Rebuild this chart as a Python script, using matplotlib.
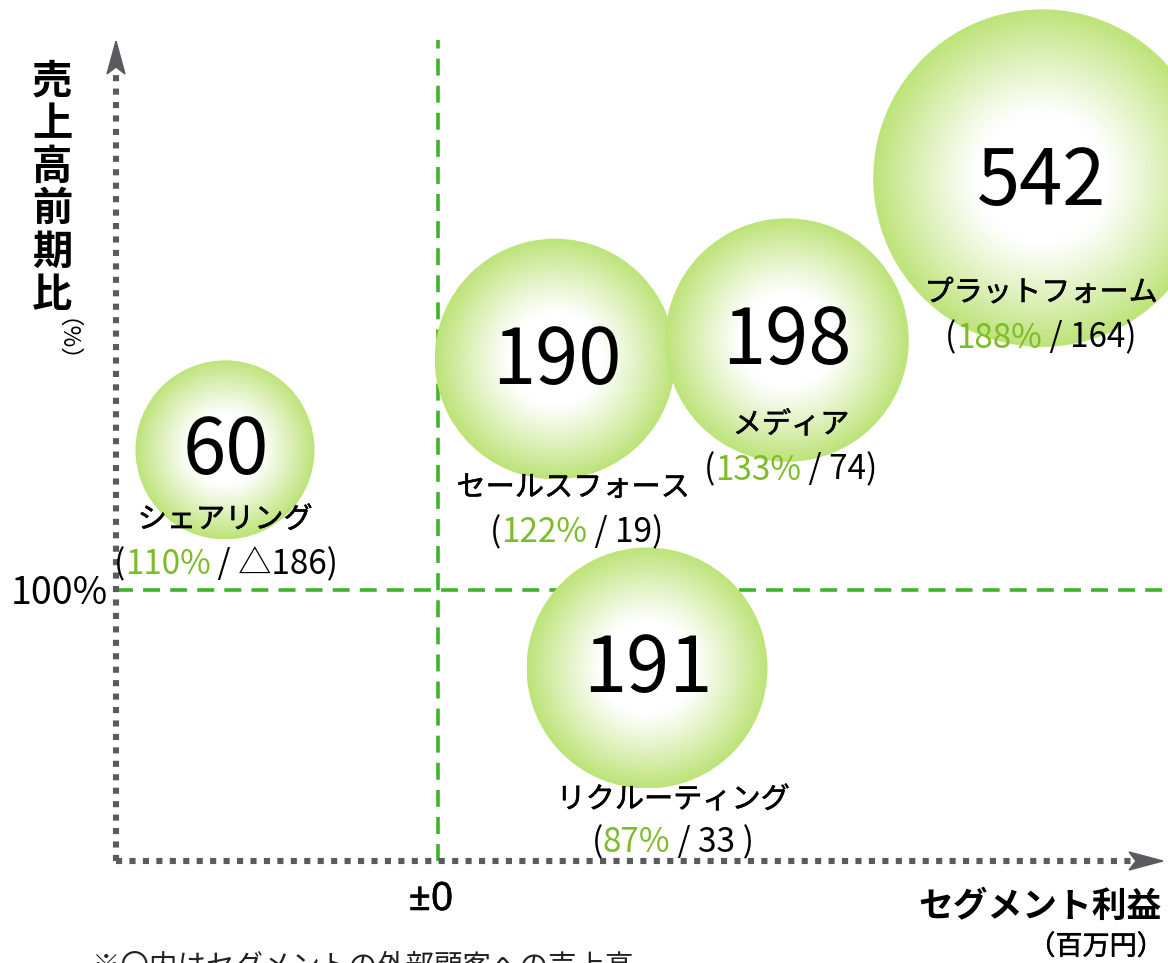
import numpy as np
import matplotlib
matplotlib.use('Agg')
import matplotlib.pyplot as plt
from matplotlib.patches import Ellipse, Polygon
import matplotlib.transforms as mtransforms
import matplotlib.patheffects as pe

plt.rcParams['font.family'] = ['Noto Sans CJK JP', 'DejaVu Sans']

# ---------------- data ----------------
segments = ['シェアリング', 'セールスフォース', 'メディア', 'プラットフォーム', 'リクルーティング']
sales = [60, 190, 198, 542, 191]                 # external sales (million yen), number in bubble
growth_labels = ['110%', '122%', '133%', '188%', '87%']
profit_labels = ['△186', '19', '74', '164', '33 ']
# schematic positions (x: segment profit axis, y: growth % axis)
pos_x = [-213, 117, 349, 604, 209]
pos_y = [146.7, 177.0, 183.3, 237.3, 74.0]

x_tick_label = '±0'
y_tick_label = '100%'

# ---------------- layout ----------------
W, H = 1168, 963
fig = plt.figure(figsize=(W / 100, H / 100), dpi=100)
ax = fig.add_axes([0, 0, 1, 1])
XLIM = (-438, 730)
YLIM = (100 - 373 / 3, 100 + 590 / 3)
ax.axis('off')
pix = mtransforms.Affine2D().scale(1 / W, -1 / H).translate(0, 1) + fig.transFigure

GREEN_TXT = '#7dbb2a'
GREEN_LINE = '#40b22c'
AXIS_GRAY = '#5a5b5f'
medium = [pe.withStroke(linewidth=0.4, foreground='black')]

# reference dashed lines
ax.axvline(0, ymin=(H - 861) / H, ymax=(H - 40) / H, color=GREEN_LINE, lw=2.6,
           dashes=(4.7, 2.8), zorder=1)
ax.axhline(100, xmin=116 / W, xmax=1.0, color=GREEN_LINE, lw=2.6,
           dashes=(4.7, 2.8), zorder=1)

# dotted axes with arrowheads
ax.plot([116, 116], [861, 70], transform=pix, color=AXIS_GRAY, lw=4.4,
        dashes=(1, 1.2), solid_capstyle='butt', dash_capstyle='butt', zorder=1)
ax.plot([116, 1134], [861, 861], transform=pix, color=AXIS_GRAY, lw=4.4,
        dashes=(1, 1.2), solid_capstyle='butt', dash_capstyle='butt', zorder=1)
ax.add_patch(Polygon([(116, 41), (107, 74), (116, 67), (125, 74)], closed=True,
                     transform=pix, color=AXIS_GRAY, zorder=1))
ax.add_patch(Polygon([(1163, 861), (1129, 852), (1136, 861), (1129, 870)], closed=True,
                     transform=pix, color=AXIS_GRAY, zorder=1))

# ---------------- bubbles ----------------
px_per_x = W / (XLIM[1] - XLIM[0])
px_per_y = H / (YLIM[1] - YLIM[0])
edge = np.array([0.74, 0.89, 0.47])
white = np.array([1.0, 1.0, 1.0])
N = 400
yy, xx = np.mgrid[-1:1:N * 1j, -1:1:N * 1j]
dist = np.sqrt(xx ** 2 + yy ** 2)
t = np.clip((dist - 0.38) / 0.62, 0, 1) ** 1.1
grad = white[None, None, :] * (1 - t[..., None]) + edge[None, None, :] * t[..., None]


def radius_px(s):
    return 50 + 5.1 * np.sqrt(s)


for i, (x, y, s) in enumerate(zip(pos_x, pos_y, sales)):
    r = radius_px(s)
    w = r / px_per_x
    h = r / px_per_y
    im = ax.imshow(grad, extent=[x - w, x + w, y - h, y + h], origin='lower',
                   interpolation='bilinear', aspect='auto', zorder=2 + i * 0.01)
    clip = Ellipse((x, y), 2 * w, 2 * h, transform=ax.transData,
                   facecolor='none', edgecolor='none')
    ax.add_patch(clip)
    im.set_clip_path(clip)

ax.set_xlim(*XLIM)
ax.set_ylim(*YLIM)

# ---------------- labels ----------------
num_off = [(1, 2), (2, 3), (0, 2), (0, 5), (1, 2)]
name_off = [(0, 70), (18, 129), (4, 85), (-1, 115), (26, 132)]
pct_off = [(1, 115), (22, 174), (4, 130), (-1, 160), (26, 175)]

renderer = fig.canvas.get_renderer()


def multicolor(xy, parts, off, fs):
    texts, widths = [], []
    for s, c in parts:
        tt = ax.annotate(s, xy=xy, xytext=(off[0], -off[1]), textcoords='offset pixels',
                         ha='left', va='center', color=c, fontsize=fs, zorder=6)
        widths.append(tt.get_window_extent(renderer).width)
        texts.append(tt)
    x0 = off[0] - sum(widths) / 2
    for tt, wd in zip(texts, widths):
        tt.xyann = (x0, -off[1])
        x0 += wd


for i in range(len(segments)):
    xy = (pos_x[i], pos_y[i])
    ax.annotate(str(sales[i]), xy=xy, xytext=(num_off[i][0], -num_off[i][1]),
                textcoords='offset pixels', ha='center', va='center',
                fontsize=56, color='black', zorder=6)
    ax.annotate(segments[i], xy=xy, xytext=(name_off[i][0], -name_off[i][1]),
                textcoords='offset pixels', ha='center', va='center',
                fontsize=21, color='black', zorder=6, path_effects=medium)
    multicolor(xy, [('(', 'black'), (growth_labels[i], GREEN_TXT),
                    (' / ' + profit_labels[i] + ')', 'black')], pct_off[i], 24)

# tick labels
ax.text(108, 594, y_tick_label, transform=pix, ha='right', va='center', fontsize=27)
ax.text(431, 900, x_tick_label, transform=pix, ha='center', va='center', fontsize=28,
        family=['Noto Sans', 'DejaVu Sans'], path_effects=medium)

# y axis title (vertical)
for k, ch in enumerate('売上高前期比'):
    ax.text(52, 82 + k * 42.6, ch, transform=pix, ha='center', va='center',
            fontsize=29, fontweight='bold')
ax.text(53, 352, '（%）', transform=pix, ha='center', va='center', fontsize=17,
        rotation=-90)

# x axis title
ax.text(1162, 906, 'セグメント利益', transform=pix, ha='right', va='center',
        fontsize=25, fontweight='bold')
ax.text(1164, 947, '（百万円）', transform=pix, ha='right', va='center',
        fontsize=19.5, path_effects=medium)

# footnote (partly cut off at the bottom edge, as in the reference)
ax.text(92, 966, '※〇内はセグメントの外部顧客への売上高', transform=pix, ha='left',
        va='center', fontsize=20.5, color='#222222')

fig.savefig('out.png', dpi=100)
